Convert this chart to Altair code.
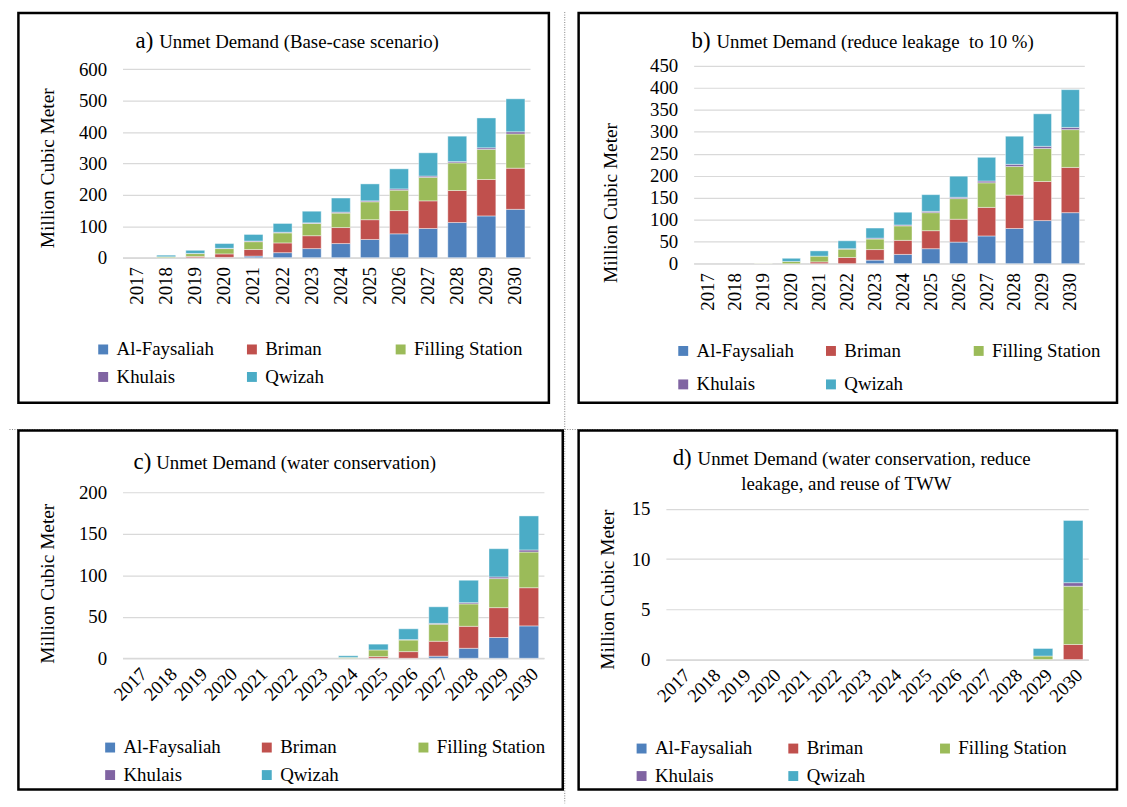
import altair as alt
import pandas as pd

YEARS = [str(y) for y in range(2017, 2031)]
SERIES = ["Al-Faysaliah", "Briman", "Filling Station", "Khulais", "Qwizah"]
COLORS = ["#4F81BD", "#C0504D", "#9BBB59", "#8064A2", "#4BACC6"]
FONT = "Liberation Serif"

# a) Base-case scenario
A_FAYSALIAH = [0, 0, 0, 1, 5, 16, 29, 45, 58, 76, 93, 112, 133, 154]
A_BRIMAN = [0, 0, 4, 11, 21, 31, 41, 51, 63, 74, 88, 102, 116, 131]
A_FILLING = [0, 3, 9, 17, 25, 32, 39, 46, 57, 65, 75, 88, 96, 109]
A_KHULAIS = [0, 0, 0.5, 1, 2, 2, 2, 3, 3, 4, 4, 4, 5, 7]
A_QWIZAH = [0, 5, 10, 15, 21, 28, 37, 45, 54, 64, 74, 81, 95, 105]

# b) reduce leakage to 10 %
B_FAYSALIAH = [0, 0, 0, 0, 0, 0, 8, 21, 34, 49, 63, 80, 98, 116]
B_BRIMAN = [0, 0, 0, 0, 4, 14, 24, 32, 41, 52, 65, 76, 89, 103]
B_FILLING = [0, 0, 0.5, 5, 13, 19, 24, 33, 41, 47, 56, 65, 75, 86]
B_KHULAIS = [0, 0, 0, 0, 0, 1, 2, 2, 3, 3, 4, 5, 5, 5]
B_QWIZAH = [0, 0, 0, 7, 12, 18, 23, 29, 38, 48, 54, 64, 74, 86]

# c) water conservation
C_FAYSALIAH = [0, 0, 0, 0, 0, 0, 0, 0, 0, 0, 2.5, 12, 25, 39]
C_BRIMAN = [0, 0, 0, 0, 0, 0, 0, 0, 2, 8, 18, 26.5, 36, 46]
C_FILLING = [0, 0, 0, 0, 0, 0, 0, 1, 8, 14, 20.5, 27, 35, 43]
C_KHULAIS = [0, 0, 0, 0, 0, 0, 0, 0, 0, 0.5, 1, 1.5, 2, 2.5]
C_QWIZAH = [0, 0, 0, 0, 0, 0, 0, 2, 7, 13, 20, 27, 34, 41]

# d) water conservation, reduce leakage, reuse of TWW
D_FAYSALIAH = [0, 0, 0, 0, 0, 0, 0, 0, 0, 0, 0, 0, 0, 0]
D_BRIMAN = [0, 0, 0, 0, 0, 0, 0, 0, 0, 0, 0, 0, 0, 1.5]
D_FILLING = [0, 0, 0, 0, 0, 0, 0, 0, 0, 0, 0, 0, 0.35, 5.8]
D_KHULAIS = [0, 0, 0, 0, 0, 0, 0, 0, 0, 0, 0, 0, 0, 0.35]
D_QWIZAH = [0, 0, 0, 0, 0, 0, 0, 0, 0, 0, 0, 0, 0.75, 6.2]


def frame(cols):
    rows = []
    for si, (name, vals) in enumerate(zip(SERIES, cols)):
        for y, v in zip(YEARS, vals):
            if v > 0:
                rows.append({"year": y, "series": name, "value": v, "idx": si})
    return pd.DataFrame(rows)


def panel(cols, ymax, ystep, view, plot_top, box, prefix, pre_end, rest_start, lines,
          angle, label_pad, ytitle, legend_xy, col_pad, row_pad, extra=()):
    vx, vy, W, y0 = view
    H = y0 - vy
    bx0, by0, bx1, by1 = box
    one = alt.Data(values=[{"k": 0}])
    layers = list(extra)
    layers.append(
        alt.Chart(one).mark_rect(filled=False, stroke="black", strokeWidth=2.5).encode(
            x=alt.value(bx0 - vx), x2=alt.value(bx1 - vx),
            y=alt.value(by0 - vy), y2=alt.value(by1 - vy))
    )
    bars = alt.Chart(frame(cols)).mark_bar(stroke="white", strokeWidth=0.6, strokeOpacity=0.7).encode(
        x=alt.X("year:N", sort=YEARS,
                scale=alt.Scale(domain=YEARS, paddingInner=0.35, paddingOuter=0.175),
                axis=alt.Axis(title=None, labelAngle=angle, ticks=False,
                              domainColor="#D9D9D9", domainWidth=1.5,
                              labelFont=FONT, labelFontSize=19, labelColor="black",
                              labelPadding=label_pad)),
        y=alt.Y("value:Q", stack="zero",
                scale=alt.Scale(domain=[0, ymax], nice=False, range=[H, plot_top - vy]),
                axis=alt.Axis(title="Million Cubic Meter",
                              values=list(range(0, ymax + 1, ystep)),
                              grid=True, gridColor="#D9D9D9", gridWidth=1.2,
                              domain=False, ticks=False, labelPadding=16,
                              labelFont=FONT, labelFontSize=19, labelColor="black",
                              titleFont=FONT, titleFontSize=19.5, titleFontWeight="normal",
                              titleColor="black", titleAngle=270,
                              titleX=ytitle[0] - vx, titleY=ytitle[1] - vy,
                              titleAlign="center", titleBaseline="middle")),
        color=alt.Color("series:N", scale=alt.Scale(domain=SERIES, range=COLORS),
                        legend=alt.Legend(title=None, orient="none", direction="horizontal",
                                          legendX=legend_xy[0] - vx,
                                          legendY=legend_xy[1] - vy,
                                          columns=3, gridAlign="all",
                                          columnPadding=col_pad, rowPadding=row_pad,
                                          symbolType="square", symbolSize=100,
                                          symbolStrokeWidth=0,
                                          labelFont=FONT, labelFontSize=19,
                                          labelColor="black", labelOffset=4,
                                          labelLimit=300)),
        order=alt.Order("idx:Q"),
    )
    layers.append(bars)
    t0 = lines[0]
    layers.append(
        alt.Chart(one).mark_text(font=FONT, fontSize=23, align="right", baseline="alphabetic",
                                 color="black").encode(
            x=alt.value(pre_end - vx), y=alt.value(t0[1] - vy), text=alt.value(prefix))
    )
    layers.append(
        alt.Chart(one).mark_text(font=FONT, fontSize=19, align="left", baseline="alphabetic",
                                 color="black").encode(
            x=alt.value(rest_start - vx), y=alt.value(t0[1] - vy), text=alt.value(t0[0]))
    )
    for txt, by, cx in lines[1:]:
        layers.append(
            alt.Chart(one).mark_text(font=FONT, fontSize=19, align="center", baseline="alphabetic",
                                     color="black").encode(
                x=alt.value(cx - vx), y=alt.value(by - vy), text=alt.value(txt))
        )
    return alt.layer(*layers).properties(width=W, height=H)


TOP_ROW = 62.3
BOT_ROW = 492.3

# dotted table grid lines (Word table cell borders), drawn from panel a
one_row = alt.Data(values=[{"k": 0}])
table_lines = [
    alt.Chart(one_row).mark_rule(stroke="#808080", strokeWidth=1, strokeDash=[1, 1.5]).encode(
        x=alt.value(569 - 123), y=alt.value(8 - TOP_ROW), y2=alt.value(806 - TOP_ROW)),
    alt.Chart(one_row).mark_rule(stroke="#808080", strokeWidth=1, strokeDash=[1, 1.5]).encode(
        x=alt.value(9 - 123), x2=alt.value(1126 - 123), y=alt.value(429 - TOP_ROW)),
]

pa = panel([A_FAYSALIAH, A_BRIMAN, A_FILLING, A_KHULAIS, A_QWIZAH], 600, 100,
           (123, TOP_ROW, 411, 255.7), 65.7, (18, 9, 553, 402),
           "a)", 154, 160, [("Unmet Demand (Base-case scenario)", 44)],
           270, 9, (47, 165), (94, 338.5), 17, 8, extra=table_lines)
pb = panel([B_FAYSALIAH, B_BRIMAN, B_FILLING, B_KHULAIS, B_QWIZAH], 450, 50,
           (699, TOP_ROW, 394, 261.7), 62.3, (583, 9, 1126, 402),
           "b)", 716, 722, [("Unmet Demand (reduce leakage \u00a0to 10 %)", 44)],
           270, 9, (615, 200), (679, 340), 16, 14)
pc = panel([C_FAYSALIAH, C_BRIMAN, C_FILLING, C_KHULAIS, C_QWIZAH], 200, 50,
           (123, BOT_ROW, 425, 659.7), 492.3, (18, 430, 567, 792),
           "c)", 152, 157, [("Unmet Demand (water conservation)", 469)],
           315, 6, (47, 584), (101, 740), 25, 8)
pd_ = panel([D_FAYSALIAH, D_BRIMAN, D_FILLING, D_KHULAIS, D_QWIZAH], 15, 5,
            (671, BOT_ROW, 426, 661), 509, (583, 430, 1126, 792),
            "d)", 697, 703, [("Unmet Demand (water conservation, reduce", 465),
                             ("leakage, and reuse of TWW", 490, 853)],
            315, 6, (612, 590), (637, 741), 20, 8)

top = alt.hconcat(pa, pb, spacing=699 - 534, bounds="flush").resolve_scale(
    color="independent").resolve_legend(color="independent")
bottom = alt.hconcat(pc, pd_, spacing=671 - 548, bounds="flush").resolve_scale(
    color="independent").resolve_legend(color="independent")
chart = alt.vconcat(top, bottom, spacing=BOT_ROW - TOP_ROW, bounds="flush").resolve_scale(
    color="independent").resolve_legend(color="independent").properties(
    padding={"left": 0.5, "top": 0, "right": 0, "bottom": 0}
).configure(font=FONT).configure_view(stroke=None)

chart.save("out.html", embed_options={"renderer": "svg", "actions": False})
